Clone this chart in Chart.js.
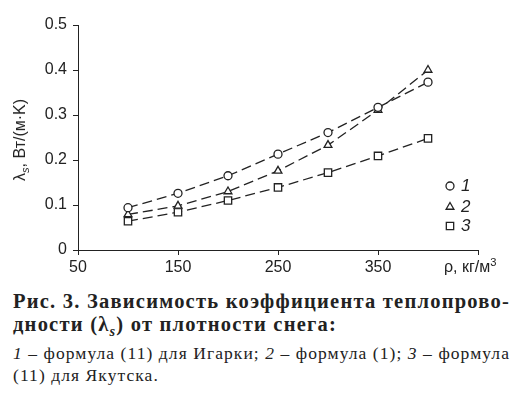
<!DOCTYPE html>
<html>
<head>
<meta charset="utf-8">
<script src="https://cdn.jsdelivr.net/npm/chart.js@4/dist/chart.umd.min.js"></script>
<style>
  body { margin: 0; background: #fff; width: 524px; height: 394px; overflow: hidden; position: relative; font-family: "Liberation Sans", Arial, sans-serif; color: #222; }
  #wrap { position: absolute; left: 0; top: 0; width: 524px; height: 280px; }
  .lbl { position: absolute; white-space: nowrap; font-size: 16px; }
  #ytitle { left: 20px; top: 140px; transform: translate(-50%, -50%) rotate(-90deg); }
  #xtitle { left: 444px; top: 258px; }
  .cap { position: absolute; left: 13px; white-space: nowrap; font-family: "Liberation Serif", "DejaVu Serif", serif; color: #222; }
  .b { font-weight: bold; font-size: 20.5px; }
  .n { font-size: 17.5px; }
  sub, sup { font-size: 0.7em; line-height: 0; }
</style>
</head>
<body>
<div id="wrap"><canvas id="c"></canvas></div>
<div class="lbl" id="ytitle">λ<sub><i>s</i></sub>, Вт/(м·K)</div>
<div class="lbl" id="xtitle">ρ, кг/м<sup>3</sup></div>
<div class="cap b" id="cap1" style="top:290px">Рис. 3. Зависимость коэффициента теплопрово-</div>
<div class="cap b" id="cap2" style="top:313px">дности (λ<sub><i>s</i></sub>) от плотности снега:</div>
<div class="cap n" id="cap3" style="top:343px"><i>1</i> – формула (11) для Игарки; <i>2</i> – формула (1); <i>3</i> – формула</div>
<div class="cap n" id="cap4" style="top:365px">(11) для Якутска.</div>
<script>
const density = [100, 150, 200, 250, 300, 350, 400];
const igarka = [0.094, 0.126, 0.165, 0.213, 0.261, 0.317, 0.373];
const formula1 = [0.079, 0.098, 0.130, 0.176, 0.233, 0.311, 0.400];
const yakutsk = [0.064, 0.084, 0.110, 0.139, 0.172, 0.209, 0.248];
const seriesNames = ["1", "2", "3"];

const ink = "#222";

// stretch the full caption lines to the page width like the printed figure
function fitLine(full, follow, width) {
    const el = document.getElementById(full);
    const n = el.textContent.length;
    const sp = (width - el.getBoundingClientRect().width) / n;
    el.style.letterSpacing = sp + "px";
    document.getElementById(follow).style.letterSpacing = sp + "px";
}
fitLine("cap1", "cap2", 497);
fitLine("cap3", "cap4", 497);

function makeSet(label, values, style, r) {
    return {
        label: label,
        data: density.map((x, i) => ({ x: x, y: values[i] })),
        borderColor: ink,
        borderWidth: 1.3,
        borderDash: [10, 5],
        backgroundColor: "#fff",
        pointStyle: style,
        pointRadius: r,
        pointBorderWidth: 1.3,
        pointBorderColor: ink,
        pointBackgroundColor: "#fff",
        tension: 0,
        fill: false
    };
}

// legend drawn inside the plot, to the right of the curves
const sideLegend = {
    id: "sideLegend",
    afterDraw(chart) {
        const ctx = chart.ctx;
        const rows = [186, 207, 226];
        ctx.save();
        chart.data.datasets.forEach((ds, i) => {
            ctx.strokeStyle = ink;
            ctx.fillStyle = "#fff";
            ctx.lineWidth = 1.3;
            ctx.setLineDash([]);
            Chart.helpers.drawPoint(ctx, { pointStyle: ds.pointStyle, radius: ds.pointRadius, borderWidth: 1.3, rotation: 0 }, 450, rows[i]);
            ctx.fillStyle = ink;
            ctx.font = "italic 17px 'Liberation Sans', Arial, sans-serif";
            ctx.textBaseline = "middle";
            ctx.textAlign = "left";
            ctx.fillText(ds.label, 461, rows[i]);
        });
        ctx.restore();
    }
};

new Chart(document.getElementById("c"), {
    type: "line",
    data: {
        datasets: [
            makeSet(seriesNames[0], igarka, "circle", 4),
            makeSet(seriesNames[1], formula1, "triangle", 4.5),
            makeSet(seriesNames[2], yakutsk, "rect", 5.2)
        ]
    },
    options: {
        responsive: true,
        maintainAspectRatio: false,
        animation: false,
        layout: { padding: { left: 0, top: 25, right: 46, bottom: 0 } },
        plugins: { legend: { display: false }, tooltip: { enabled: false } },
        scales: {
            x: {
                type: "linear",
                min: 50,
                max: 450,
                afterFit: s => { s.height = 30; },
                ticks: {
                    stepSize: 100,
                    color: ink,
                    font: { size: 16, family: "'Liberation Sans', Arial, sans-serif" },
                    padding: 3,
                    maxRotation: 0,
                    callback: v => (v === 450 ? "" : String(v))
                },
                grid: { drawOnChartArea: false, drawTicks: true, tickLength: 5, color: ink },
                border: { display: true, color: ink, width: 1 }
            },
            y: {
                min: 0,
                max: 0.5,
                afterFit: s => { s.width = 78; },
                ticks: {
                    stepSize: 0.1,
                    color: ink,
                    font: { size: 16, family: "'Liberation Sans', Arial, sans-serif" },
                    padding: 6,
                    callback: v => String(Math.round(v * 10) / 10)
                },
                grid: { drawOnChartArea: false, drawTicks: true, tickLength: 5, color: ink },
                border: { display: true, color: ink, width: 1 }
            }
        }
    },
    plugins: [sideLegend]
});
</script>
</body>
</html>
